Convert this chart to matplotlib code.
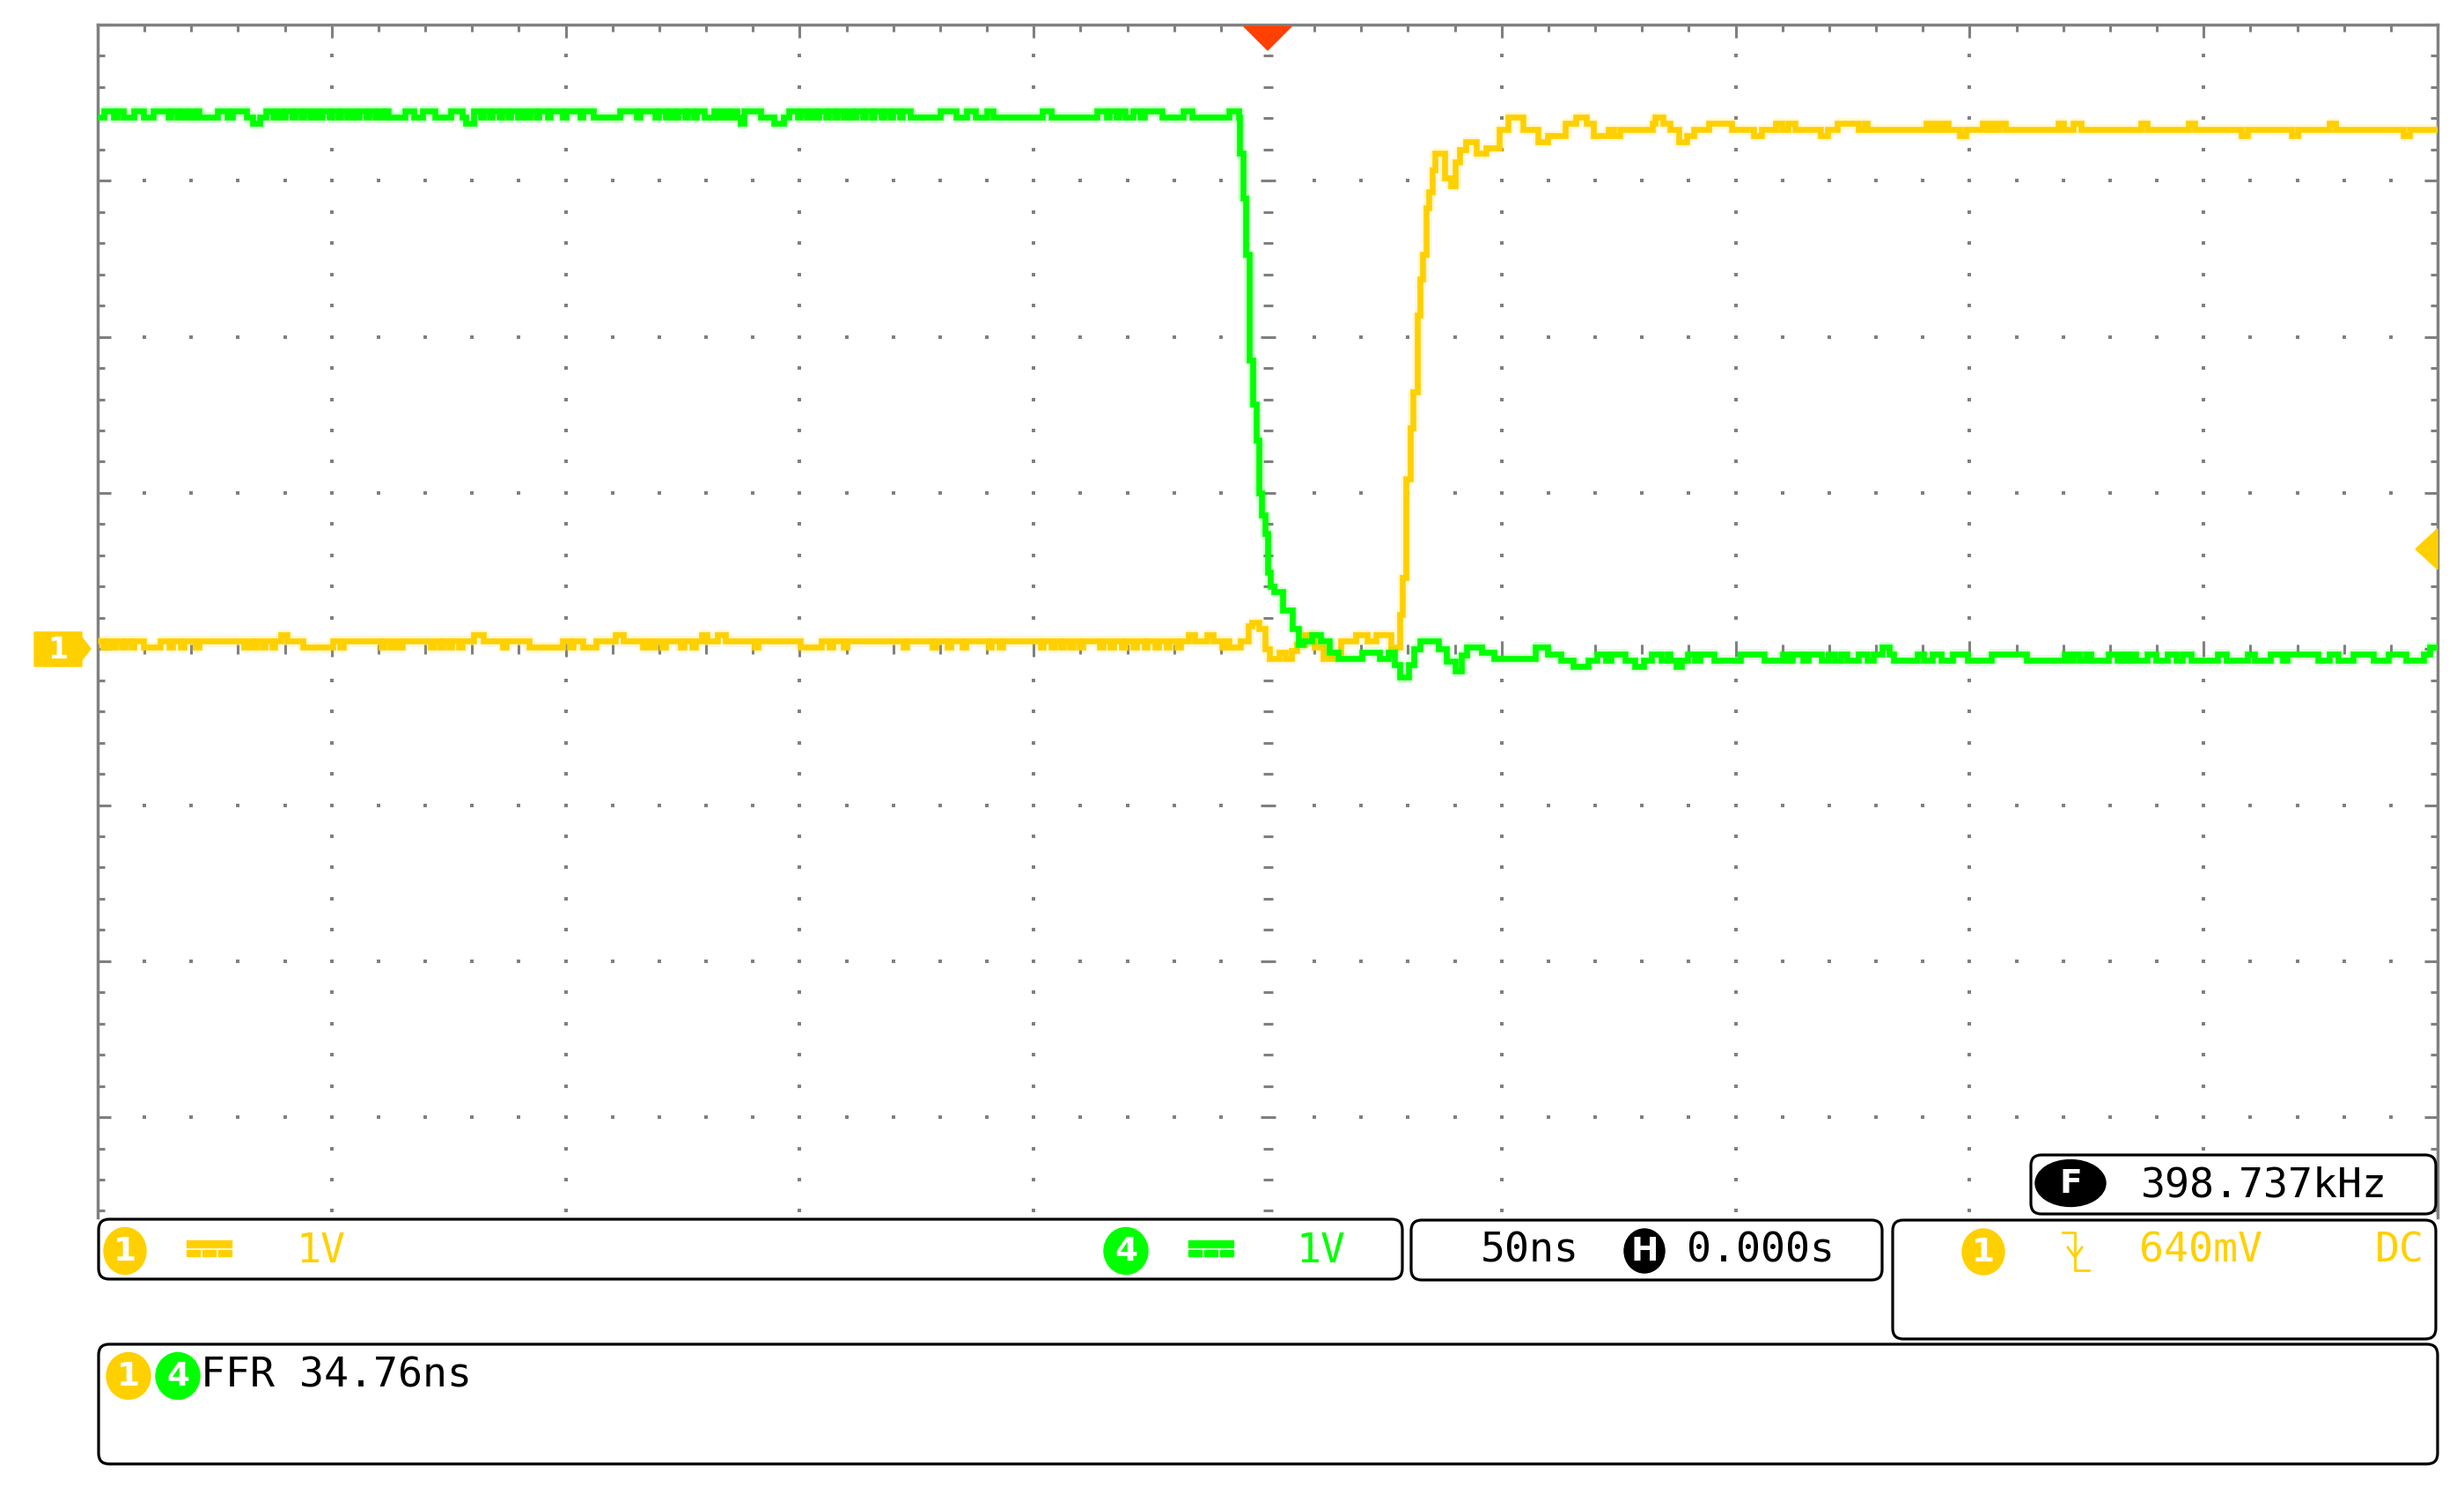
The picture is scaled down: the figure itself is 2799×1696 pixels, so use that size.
import matplotlib
matplotlib.use("Agg")
import matplotlib.pyplot as plt
import numpy as np
from matplotlib.patches import Ellipse, FancyBboxPatch, Polygon, Rectangle

# ---------------- data (time in ns, voltage in V; 50 ns/div, 1 V/div) ----------------
# CH4 (green) high level before the falling edge: (time, level) breakpoints, step-post
ch4_high = [
    (-250.0, 3.41), (-248.6, 3.45), (-246.6, 3.41), (-245.8, 3.45), (-244.5, 3.41), (-242.3, 3.45),
    (-240.2, 3.41), (-238.1, 3.45), (-235.0, 3.41), (-234.3, 3.45), (-233.1, 3.41), (-232.4, 3.45),
    (-231.2, 3.41), (-230.5, 3.45), (-229.6, 3.41), (-228.9, 3.45), (-228.3, 3.41), (-224.4, 3.45),
    (-222.3, 3.41), (-221.2, 3.45), (-218.3, 3.41), (-216.9, 3.37), (-215.3, 3.41), (-214.1, 3.45),
    (-212.5, 3.41), (-211.9, 3.45), (-210.6, 3.41), (-210.0, 3.45), (-208.5, 3.41), (-207.9, 3.45),
    (-206.6, 3.41), (-206.0, 3.45), (-204.6, 3.41), (-204.0, 3.45), (-202.7, 3.41), (-202.1, 3.45),
    (-200.6, 3.41), (-200.0, 3.45), (-198.7, 3.41), (-198.1, 3.45), (-196.7, 3.41), (-196.1, 3.45),
    (-194.8, 3.41), (-194.2, 3.45), (-192.7, 3.41), (-192.1, 3.45), (-190.8, 3.41), (-190.2, 3.45),
    (-189.1, 3.41), (-188.5, 3.45), (-187.9, 3.41), (-184.3, 3.45), (-182.4, 3.41), (-180.5, 3.45),
    (-178.0, 3.41), (-174.5, 3.45), (-172.1, 3.41), (-171.3, 3.37), (-169.7, 3.45), (-168.2, 3.41),
    (-167.6, 3.45), (-166.3, 3.41), (-165.7, 3.45), (-164.2, 3.41), (-163.6, 3.45), (-162.3, 3.41),
    (-161.7, 3.45), (-160.2, 3.41), (-159.6, 3.45), (-158.3, 3.41), (-157.7, 3.45), (-156.3, 3.41),
    (-155.7, 3.45), (-153.9, 3.41), (-153.3, 3.45), (-150.7, 3.41), (-149.9, 3.45), (-146.9, 3.41),
    (-146.3, 3.45), (-144.1, 3.41), (-138.4, 3.45), (-134.9, 3.41), (-134.1, 3.45), (-130.9, 3.41),
    (-130.1, 3.45), (-128.6, 3.41), (-128.0, 3.45), (-126.7, 3.41), (-126.1, 3.45), (-124.6, 3.41),
    (-124.0, 3.45), (-122.6, 3.41), (-122.0, 3.45), (-120.3, 3.41), (-118.3, 3.45), (-117.5, 3.41),
    (-116.7, 3.45), (-115.6, 3.41), (-114.6, 3.45), (-113.5, 3.41), (-112.7, 3.37), (-111.9, 3.45),
    (-108.3, 3.41), (-105.6, 3.37), (-103.5, 3.41), (-102.4, 3.45), (-100.5, 3.41), (-99.9, 3.45),
    (-98.5, 3.41), (-97.9, 3.45), (-96.6, 3.41), (-96.0, 3.45), (-94.5, 3.41), (-93.9, 3.45),
    (-92.6, 3.41), (-92.0, 3.45), (-90.6, 3.41), (-90.0, 3.45), (-88.7, 3.41), (-88.1, 3.45),
    (-86.6, 3.41), (-86.0, 3.45), (-84.7, 3.41), (-84.1, 3.45), (-82.6, 3.41), (-82.0, 3.45),
    (-80.7, 3.41), (-80.1, 3.45), (-78.7, 3.41), (-78.1, 3.45), (-76.3, 3.41), (-70.0, 3.45),
    (-66.5, 3.41), (-64.4, 3.45), (-62.4, 3.41), (-60.1, 3.45), (-58.6, 3.41), (-48.1, 3.45),
    (-46.2, 3.41), (-36.4, 3.45), (-34.4, 3.41), (-33.8, 3.45), (-32.3, 3.41), (-31.7, 3.45),
    (-30.4, 3.41), (-28.8, 3.45), (-27.2, 3.41), (-26.4, 3.45), (-22.5, 3.41), (-18.0, 3.45),
    (-16.1, 3.41), (-8.2, 3.45), (-6.3, 3.41),
]
# CH4 falling edge and ringing
ch4_edge = [
    (-6.0, 3.175), (-5.3, 2.89), (-4.7, 2.53), (-3.9, 1.85), (-3.27, 1.57), (-2.5, 1.34),
    (-1.89, 1.00), (-1.26, 0.857), (-0.63, 0.74), (0.0, 0.49), (0.62, 0.40), (1.25, 0.365),
    (3.13, 0.25), (5.3, 0.13), (6.6, 0.028), (7.5, 0.054), (9.4, 0.093), (11.3, 0.054),
    (13.2, -0.024), (15.0, -0.062), (20.1, -0.024), (23.8, -0.062), (25.7, -0.024), (27.0, -0.10),
    (28.2, -0.18), (30.1, -0.10), (31.3, 0.0), (32.6, 0.054), (36.4, 0.0), (38.2, -0.08),
    (40.1, -0.14), (41.4, -0.04), (42.6, 0.015), (45.8, -0.024), (48.3, -0.062), (57.1, 0.015),
    (59.8, -0.03), (62.7, -0.07), (65.2, -0.11),
]
# CH4 low level after the edge
ch4_low = [
    (68.4, -0.07), (70.3, -0.03), (72.2, -0.07), (73.4, -0.03), (76.3, -0.07), (78.4, -0.11),
    (80.3, -0.07), (82.0, -0.03), (84.1, -0.07), (85.4, -0.03), (86.0, -0.07), (87.2, -0.11),
    (88.5, -0.07), (89.8, -0.03), (91.3, -0.07), (92.3, -0.03), (95.4, -0.07), (101.1, -0.03),
    (106.1, -0.07), (110.1, -0.03), (111.1, -0.07), (112.2, -0.03), (114.3, -0.07), (115.5, -0.03),
    (118.4, -0.07), (119.9, -0.03), (121.2, -0.07), (122.5, -0.03), (123.7, -0.07), (126.2, -0.03),
    (128.1, -0.07), (129.4, -0.03), (131.3, 0.01), (132.8, -0.03), (133.8, -0.07), (138.8, -0.03),
    (140.1, -0.07), (142.0, -0.03), (143.9, -0.07), (146.4, -0.03), (149.5, -0.07), (154.6, -0.03),
    (162.1, -0.07), (170.3, -0.03), (171.3, -0.07), (172.2, -0.03), (173.4, -0.07), (174.7, -0.03),
    (175.9, -0.07), (179.7, -0.03), (181.6, -0.07), (182.6, -0.03), (183.5, -0.07), (184.5, -0.03),
    (185.4, -0.07), (187.9, -0.03), (189.8, -0.07), (192.3, -0.03), (194.2, -0.07), (195.4, -0.03),
    (197.3, -0.07), (203.0, -0.03), (204.9, -0.07), (209.3, -0.03), (210.8, -0.07), (214.3, -0.03),
    (216.8, -0.07), (217.8, -0.03), (224.4, -0.07), (226.9, -0.03), (228.8, -0.07), (231.9, -0.03),
    (236.3, -0.07), (239.5, -0.03), (243.2, -0.07), (247.0, -0.03), (248.3, 0.01), (250.0, 0.01),
]

# CH1 (yellow) low level: base level plus deviations (start, end, level)
ch1_low_base = 0.05
ch1_low_events = [
    (-248.9, -248.2, 0.01), (-247.0, -246.3, 0.01), (-244.9, -244.2, 0.01), (-242.9, -242.2, 0.01),
    (-240.2, -236.7, 0.01), (-234.7, -234.0, 0.01), (-232.3, -231.6, 0.01), (-229.1, -228.4, 0.01),
    (-218.8, -218.1, 0.01), (-216.9, -216.2, 0.01), (-214.9, -214.2, 0.01), (-212.8, -212.1, 0.01),
    (-210.9, -209.6, 0.09), (-206.2, -199.8, 0.01), (-198.2, -197.5, 0.01), (-189.5, -188.8, 0.01),
    (-187.5, -186.8, 0.01), (-185.6, -184.9, 0.01), (-178.9, -178.2, 0.01), (-176.9, -176.2, 0.01),
    (-175.0, -174.3, 0.01), (-172.9, -172.2, 0.01), (-169.7, -167.7, 0.09), (-163.4, -162.7, 0.01),
    (-157.9, -150.7, 0.01), (-149.2, -148.5, 0.01), (-146.3, -143.6, 0.01), (-139.3, -137.7, 0.09),
    (-133.6, -132.9, 0.01), (-131.7, -131.0, 0.01), (-129.4, -128.7, 0.01), (-125.4, -124.7, 0.01),
    (-123.0, -122.3, 0.01), (-121.0, -119.8, 0.09), (-117.5, -115.9, 0.09), (-109.6, -108.9, 0.01),
    (-99.8, -95.3, 0.01), (-93.7, -93.0, 0.01), (-90.6, -89.9, 0.01), (-77.9, -77.2, 0.01),
    (-71.6, -70.9, 0.01), (-68.4, -67.7, 0.01), (-65.2, -64.5, 0.01), (-59.7, -59.0, 0.01),
    (-57.3, -56.6, 0.01), (-48.6, -47.9, 0.01), (-46.2, -45.5, 0.01), (-44.3, -43.6, 0.01),
    (-42.3, -41.6, 0.01), (-40.2, -39.5, 0.01), (-35.9, -35.2, 0.01), (-33.6, -32.9, 0.01),
    (-31.2, -30.5, 0.01), (-28.8, -28.1, 0.01), (-26.4, -25.7, 0.01), (-24.1, -23.4, 0.01),
    (-21.7, -21.0, 0.01), (-19.3, -18.6, 0.01), (-16.9, -15.7, 0.09), (-12.9, -11.7, 0.09),
    (-9.8, -9.1, 0.01), (-8.2, -5.9, 0.01),
]
# CH1 rising edge
ch1_edge = [
    (-4.08, 0.145), (-3.46, 0.17), (-1.89, 0.13), (-0.63, 0.0), (0.31, -0.062), (2.5, -0.024),
    (3.76, -0.062), (5.0, -0.01), (6.3, 0.028), (7.83, 0.093), (10.0, 0.015), (11.9, -0.062),
    (13.8, -0.024), (15.7, 0.054), (18.8, 0.093), (21.3, 0.054), (23.2, 0.093), (26.3, 0.015),
    (28.2, 0.22), (28.8, 0.456), (29.5, 1.09), (30.4, 1.414), (31.0, 1.647), (32.0, 2.14),
    (32.6, 2.37), (33.2, 2.53), (33.9, 2.825), (34.5, 2.93), (35.1, 3.07), (35.7, 3.175),
    (37.9, 3.02), (39.2, 2.97), (40.1, 3.12), (41.1, 3.20), (42.3, 3.25), (44.5, 3.175),
    (46.7, 3.21), (49.5, 3.33), (51.4, 3.41), (54.5, 3.33), (57.7, 3.25),
]
# CH1 high level
ch1_high = [
    (59.8, 3.29), (63.6, 3.37), (65.9, 3.41), (68.1, 3.37), (69.6, 3.29), (72.8, 3.33), (74.0, 3.29),
    (75.3, 3.33), (82.2, 3.37), (82.8, 3.41), (84.4, 3.37), (86.0, 3.33), (87.9, 3.25), (89.5, 3.29),
    (91.0, 3.33), (94.2, 3.37), (99.2, 3.33), (103.9, 3.29), (105.5, 3.33), (108.6, 3.37), (109.9, 3.33),
    (111.2, 3.37), (112.7, 3.33), (118.1, 3.29), (119.6, 3.33), (121.8, 3.37), (126.3, 3.33),
    (127.5, 3.37), (128.1, 3.33), (140.7, 3.37), (141.7, 3.33), (142.6, 3.37), (143.6, 3.33),
    (144.5, 3.37), (145.5, 3.33), (147.9, 3.29), (149.1, 3.33), (152.7, 3.37), (153.7, 3.33),
    (154.7, 3.37), (155.4, 3.33), (156.4, 3.37), (157.7, 3.33), (169.0, 3.37), (170.0, 3.33),
    (172.2, 3.37), (173.8, 3.33), (186.6, 3.37), (187.9, 3.33), (196.7, 3.37), (198.0, 3.33),
    (208.0, 3.29), (209.3, 3.33), (218.7, 3.29), (220.0, 3.33), (226.9, 3.37), (228.2, 3.33),
    (242.6, 3.29), (243.9, 3.33), (250.0, 3.33),
]

trigger_level = 0.64          # V (CH1)
ch1_scale_label = "1V"
ch4_scale_label = "1V"
timebase_label = "50ns"
delay_label = "0.000s"
trig_label = "640mV"
trig_coupling = "DC"
freq_label = "398.737kHz"
meas_label = "FFR 34.76ns"

# ---------------- styling ----------------
YEL = "#FFD000"
GRN = "#00FF00"
GRID = "#808080"
TRIG = "#FF4000"
W, H = 2799, 1696
PL, PR, PT, PB = 111, 2769, 28, 1383
PX_PER_V = 177.3
PX_PER_NS = (PR - PL) / 500.0
V_TOP = 4.0
V_BOT = V_TOP - (PB - PT) / PX_PER_V
MONO = "DejaVu Sans Mono"
FS = 33.5

fig = plt.figure(figsize=(W / 100, H / 100), dpi=100)
fig.patch.set_facecolor("white")
ax = fig.add_axes([PL / W, 1 - PB / H, (PR - PL) / W, (PB - PT) / H])
ax.set_xlim(-250, 250)
ax.set_ylim(V_BOT, V_TOP)
ax.set_facecolor("white")

for s in ["left", "right", "top"]:
    ax.spines[s].set_color(GRID)
    ax.spines[s].set_linewidth(2.5)
ax.spines["bottom"].set_visible(False)

ax.set_xticks(np.arange(-250, 251, 50))
ax.set_xticks(np.arange(-250, 251, 10), minor=True)
ax.set_yticks(np.arange(-3, 4.01, 1))
ax.set_yticks(np.arange(-3.6, 4.01, 0.2), minor=True)
ax.tick_params(axis="x", which="both", direction="in", top=True, bottom=False,
               labeltop=False, labelbottom=False, color=GRID, width=2.2)
ax.tick_params(axis="y", which="both", direction="in", left=True, right=True,
               labelleft=False, labelright=False, color=GRID, width=2.2)
ax.tick_params(which="major", length=11)
ax.tick_params(which="minor", length=6)

# dotted grid
xmaj = [x for x in range(-200, 201, 50) if x != 0]
ymin_pos = [round(v, 2) for v in np.arange(-3.6, 3.81, 0.2) if abs(v) > 1e-6]
gx, gy = np.meshgrid(xmaj, ymin_pos)
ax.scatter(gx.ravel(), gy.ravel(), marker="s", s=5, color=GRID, linewidths=0, zorder=1)
ymaj = [-3, -2, -1, 1, 2, 3]
xmin_pos = [x for x in range(-240, 241, 10) if x != 0]
gx, gy = np.meshgrid(xmin_pos, ymaj)
ax.scatter(gx.ravel(), gy.ravel(), marker="s", s=5, color=GRID, linewidths=0, zorder=1)

# center cross with dashes
for yv in ymin_pos:
    hw = (8.5 if abs(yv - round(yv)) < 1e-6 else 5.5) / PX_PER_NS
    ax.plot([-hw, hw], [yv, yv], color=GRID, lw=2.2, solid_capstyle="butt", zorder=1)
for xv in xmin_pos:
    hh = (9.0 if xv % 50 == 0 else 5.5) / PX_PER_V
    ax.plot([xv, xv], [-hh, hh], color=GRID, lw=2.2, solid_capstyle="butt", zorder=1)

# ---------------- traces ----------------
def events_to_steps(t0, base, events):
    pts = [(t0, base)]
    for s, e, lvl in sorted(events):
        pts.append((s, lvl))
        pts.append((e, base))
    return pts

ch1_pts = events_to_steps(-250.0, ch1_low_base, ch1_low_events) + ch1_edge + ch1_high
ch4_pts = ch4_high + ch4_edge + ch4_low

for pts, col, z in [(ch1_pts, YEL, 5), (ch4_pts, GRN, 6)]:
    t = [p[0] for p in pts]
    v = [p[1] for p in pts]
    ax.plot(t, v, drawstyle="steps-post", color=col, lw=9, alpha=0.15, zorder=z)
    ax.plot(t, v, drawstyle="steps-post", color=col, lw=4.8,
            solid_joinstyle="miter", solid_capstyle="butt", zorder=z)

# trigger position marker (top, t=0)
hw = 27 / PX_PER_NS
ax.add_patch(Polygon([(-hw, V_TOP - 2 / PX_PER_V), (hw, V_TOP - 2 / PX_PER_V),
                      (0, V_TOP - 29 / PX_PER_V)], closed=True, color=TRIG,
                     zorder=8, clip_on=False))
# trigger level marker (right edge)
ax.add_patch(Polygon([(250, trigger_level + 23 / PX_PER_V),
                      (250 - 25 / PX_PER_NS, trigger_level),
                      (250, trigger_level - 23 / PX_PER_V)], closed=True, color=YEL,
                     zorder=8, clip_on=False))

# ---------------- overlay (pixel coordinates) ----------------
ov = fig.add_axes([0, 0, 1, 1])
ov.set_xlim(0, W)
ov.set_ylim(H, 0)
ov.axis("off")

# CH1 ground marker
ov.add_patch(Polygon([(39, 718), (93, 718), (93, 724), (103, 737), (93, 750), (93, 757), (39, 757)],
                     closed=True, color=YEL, zorder=3))
ov.text(66, 738, "1", color="white", fontsize=24, fontweight="bold",
        ha="center", va="center", family="DejaVu Sans", zorder=4)


def box(x0, y0, x1, y1):
    ov.add_patch(FancyBboxPatch((x0, y0), x1 - x0, y1 - y0,
                                boxstyle="round,pad=0,rounding_size=12",
                                facecolor="white", edgecolor="black", lw=2.3, zorder=2))


def badge(cx, cy, w, h, col, label):
    ov.add_patch(Ellipse((cx, cy), w, h, color=col, zorder=3))
    ov.text(cx, cy + 1, label, color="white", fontsize=27, fontweight="bold",
            ha="center", va="center", family="DejaVu Sans", zorder=4)


def dc_symbol(x0, col):
    ov.add_patch(Rectangle((x0, 1409), 51, 8, color=col, zorder=3))
    for k in range(3):
        ov.add_patch(Rectangle((x0 + k * 18, 1420), 15, 7, color=col, zorder=3))


def mono(x, y, s, col="black"):
    ov.text(x, y, s, color=col, fontsize=FS, family=MONO, ha="left", va="baseline", zorder=4)


box(112, 1385, 1593, 1453)
box(1603, 1386, 2138, 1454)
box(2150, 1386, 2767, 1521)
box(2307, 1312, 2767, 1379)
box(112, 1527, 2769, 1663)

# channel box
badge(142, 1421, 48, 53, YEL, "1")
dc_symbol(212, YEL)
mono(336, 1434, ch1_scale_label, YEL)
badge(1279, 1421, 50, 53, GRN, "4")
dc_symbol(1350, GRN)
mono(1472, 1434, ch4_scale_label, GRN)

# timebase box
mono(1682, 1433, timebase_label)
badge(1868, 1421, 46, 50, "black", "H")
mono(1916, 1433, delay_label)

# trigger box
badge(2253, 1422, 48, 52, YEL, "1")
ov.plot([2343, 2357, 2357, 2373], [1400, 1400, 1443, 1443], color=YEL, lw=2.0, zorder=4)
ov.plot([2349, 2357, 2365], [1417, 1428, 1417], color=YEL, lw=2.0, zorder=4)
mono(2430, 1433, trig_label, YEL)
mono(2698, 1433, trig_coupling, YEL)

# frequency counter
badge(2352, 1344, 80, 53, "black", "F")
mono(2432, 1360, freq_label)

# measurement box
badge(146, 1563, 50, 53, YEL, "1")
badge(202, 1563, 50, 53, GRN, "4")
mono(228, 1576, meas_label)

fig.savefig("out.png", dpi=100, facecolor="white")
